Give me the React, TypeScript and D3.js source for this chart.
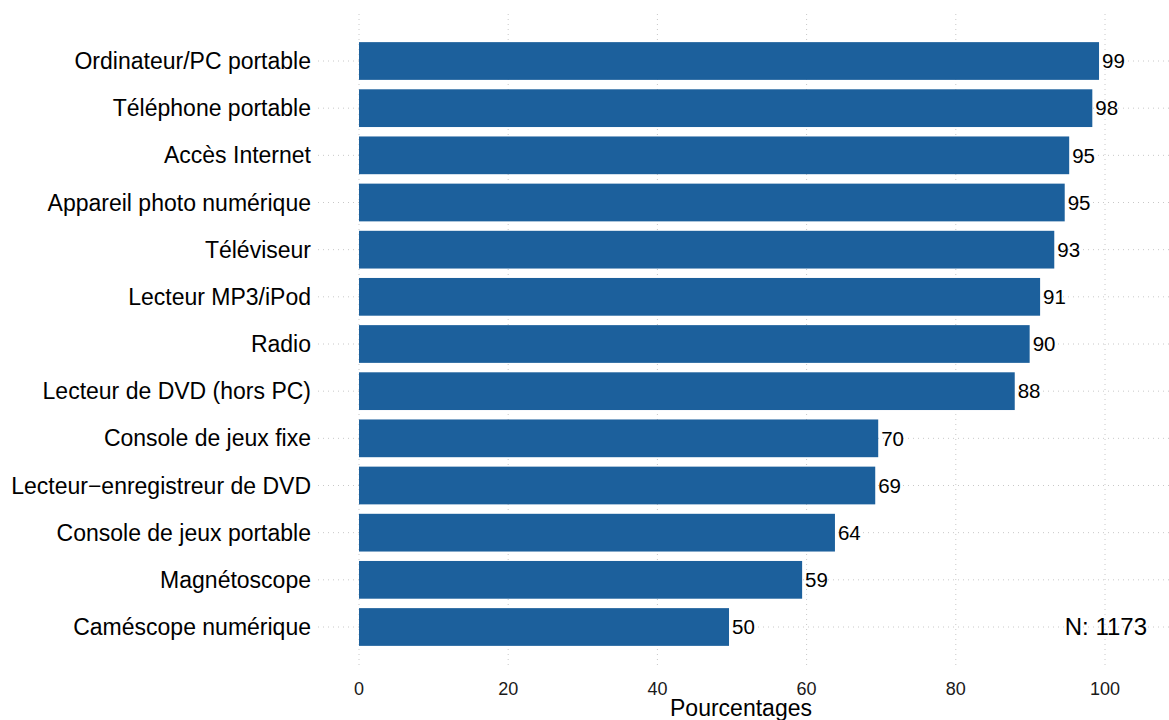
import React from "react";
import * as d3 from "d3";

const categories = [
  "Ordinateur/PC portable",
  "Téléphone portable",
  "Accès Internet",
  "Appareil photo numérique",
  "Téléviseur",
  "Lecteur MP3/iPod",
  "Radio",
  "Lecteur de DVD (hors PC)",
  "Console de jeux fixe",
  "Lecteur\u2212enregistreur de DVD",
  "Console de jeux portable",
  "Magnétoscope",
  "Caméscope numérique",
];
const values = [99.2, 98.3, 95.2, 94.6, 93.2, 91.3, 89.9, 87.9, 69.6, 69.2, 63.8, 59.4, 49.6];
const labels = [99, 98, 95, 95, 93, 91, 90, 88, 70, 69, 64, 59, 50];
const xTicks = [0, 20, 40, 60, 80, 100];
const note = "N: 1173";
const xTitle = "Pourcentages";

const W = 1169;
const H = 720;
const FONT = "'Liberation Sans', Arial, Helvetica, sans-serif";

export default function App() {
  const x = d3.scaleLinear().domain([0, 100]).range([359, 1105]);
  const step = (627 - 61) / 12;
  const y = d3
    .scaleBand<string>()
    .domain(categories)
    .range([61 - step / 2, 627 + step / 2])
    .paddingInner(0.2)
    .paddingOuter(0.1);
  const panelLeft = 318;
  const panelRight = 1169;
  const gridTop = 14;
  const gridBottom = 666;
  const grid = "#c8c8c8";
  const color = "#1c609c";

  return (
    <svg width={W} height={H} style={{ position: "absolute", left: 0, top: 0 }} fontFamily={FONT}>
      <rect x={0} y={0} width={W} height={H} fill="white" />
      {xTicks.map((t) => (
        <line
          key={"v" + t}
          x1={x(t)}
          x2={x(t)}
          y1={gridTop}
          y2={gridBottom}
          stroke={grid}
          strokeWidth={1}
          strokeDasharray="1,4"
        />
      ))}
      {categories.map((c) => {
        const cy = (y(c) as number) + y.bandwidth() / 2;
        return (
          <line
            key={"h" + c}
            x1={panelLeft}
            x2={panelRight}
            y1={cy}
            y2={cy}
            stroke={grid}
            strokeWidth={1}
            strokeDasharray="1,4"
          />
        );
      })}
      {categories.map((c, i) => (
        <rect
          key={"b" + c}
          x={x(0)}
          y={y(c) as number}
          width={x(values[i]) - x(0)}
          height={y.bandwidth()}
          fill={color}
        />
      ))}
      {categories.map((c, i) => (
        <text
          key={"l" + c}
          x={x(values[i]) + 3}
          y={(y(c) as number) + y.bandwidth() / 2}
          dy="0.35em"
          fontSize={20.5}
          fill="#000"
        >
          {labels[i]}
        </text>
      ))}
      {categories.map((c) => (
        <text
          key={"c" + c}
          x={311}
          y={(y(c) as number) + y.bandwidth() / 2}
          dy="0.35em"
          fontSize={23}
          textAnchor="end"
          fill="#000"
        >
          {c}
        </text>
      ))}
      {xTicks.map((t) => (
        <text key={"t" + t} x={x(t)} y={695} fontSize={18} textAnchor="middle" fill="#1a1a1a">
          {t}
        </text>
      ))}
      <text x={741} y={716} fontSize={23} textAnchor="middle" fill="#000">
        {xTitle}
      </text>
      <text
        x={1147}
        y={(y(categories[12]) as number) + y.bandwidth() / 2}
        dy="0.35em"
        fontSize={24}
        textAnchor="end"
        fill="#000"
      >
        {note}
      </text>
    </svg>
  );
}
